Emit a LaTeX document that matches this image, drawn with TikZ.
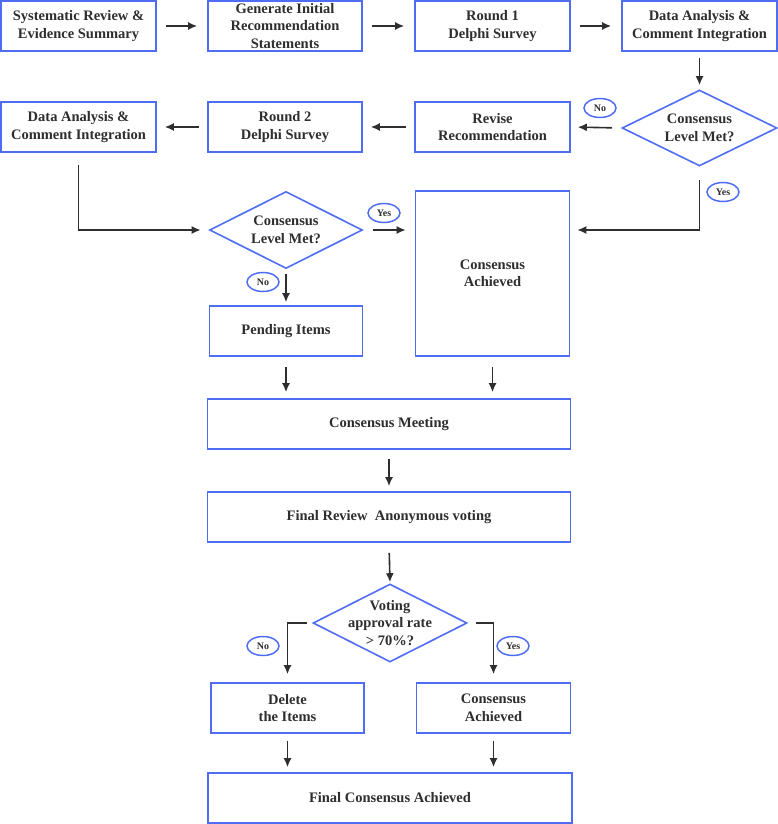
\documentclass[tikz,border=0pt]{standalone}
\usepackage{fontspec}
\setmainfont{Liberation Serif}
\usetikzlibrary{shapes.geometric,arrows.meta,calc}
\definecolor{bblue}{HTML}{4F6DF2}
\definecolor{tgray}{HTML}{2E2E2E}
\begin{document}
\begin{tikzpicture}[x=1pt,y=-1pt,
  box/.style={draw=bblue,line width=1.6pt,fill=white,inner sep=0pt,align=center,
    font=\fontsize{14.5}{17.5}\selectfont\bfseries,text=tgray,minimum height=50pt},
  dia/.style={draw=bblue,line width=1.6pt,shape=diamond,inner sep=0pt,aspect=2},
  dtext/.style={align=center,font=\fontsize{14.5}{17.5}\selectfont\bfseries,text=tgray,inner sep=0pt},
  lab/.style={draw=bblue,line width=1.5pt,ellipse,inner sep=0pt,minimum width=32pt,minimum height=19pt,
    font=\fontsize{10}{11}\selectfont\bfseries,text=tgray},
  arr/.style={draw=tgray,line width=1.6pt,-{Latex[length=9pt,width=8pt]}}
]
\useasboundingbox (0,0) rectangle (778,824);
% row 1
\node[box,minimum width=155pt] (b1) at (78.5,26) {Systematic Review \&\\Evidence Summary};
\node[box,minimum width=154pt] (b2) at (285,26) {Generate Initial\\Recommendation\\Statements};
\node[box,minimum width=155pt] (b3) at (492.5,26) {Round 1\\Delphi Survey};
\node[box,minimum width=155pt] (b4) at (699.5,26) {Data Analysis \&\\Comment Integration};
% row 2
\node[dia,minimum width=155pt,minimum height=76pt,label={[dtext,name=d1t]center:Consensus\\Level Met?}] (d1) at (699.5,128) {};
\node[box,minimum width=155pt] (b7) at (492.5,127) {Revise\\Recommendation};
\node[box,minimum width=154pt] (b6) at (285,127) {Round 2\\Delphi Survey};
\node[box,minimum width=155pt] (b5) at (78.5,127) {Data Analysis \&\\Comment Integration};
\node[lab] (n1) at (600,108) {No};
\node[lab] (y1) at (723,192) {Yes};
% middle
\node[box,minimum width=154pt,minimum height=165pt] (ca1) at (492.5,273.5) {Consensus\\Achieved};
\node[dia,minimum width=153pt,minimum height=77pt,label={[dtext,name=d2t]center:Consensus\\Level Met?}] (d2) at (286,230) {};
\node[lab] (y2) at (384,213) {Yes};
\node[lab] (n2) at (263,282) {No};
\node[box,minimum width=153pt] (pend) at (286,331) {Pending Items};
\node[box,minimum width=363pt] (meet) at (389,424) {Consensus Meeting};
\node[box,minimum width=363pt] (frev) at (389,517) {Final Review\ \ Anonymous voting};
\node[dia,minimum width=154pt,minimum height=78pt,label={[dtext,name=d3t]center:Voting\\approval rate\\> 70\%?}] (d3) at (390,623) {};
\node[lab] (n3) at (263,646) {No};
\node[lab] (y3) at (513,646) {Yes};
\node[box,minimum width=153pt] (del) at (287.5,708) {Delete\\the Items};
\node[box,minimum width=154pt] (ca2) at (493.5,708) {Consensus\\Achieved};
\node[box,minimum width=364pt] (fin) at (390,798) {Final Consensus Achieved};
% arrows
\draw[arr,shorten <=9pt,shorten >=10pt] (b1) -- (b2);
\draw[arr,shorten <=9pt,shorten >=10pt] (b2) -- (b3);
\draw[arr,shorten <=9pt,shorten >=10pt] (b3) -- (b4);
\draw[arr,shorten <=6pt,shorten >=4pt] (b4) -- (d1);
\draw[arr,shorten <=9pt,shorten >=7pt] (d1.west) -- (b7.east);
\draw[arr,shorten <=8pt,shorten >=8pt] (b7) -- (b6);
\draw[arr,shorten <=8pt,shorten >=8pt] (b6) -- (b5);
\draw[arr,shorten <=13pt,shorten >=7pt] (d1.south) |- (ca1.east |- d2.east);
\draw[arr,shorten <=12pt,shorten >=8pt] (b5.south) |- (d2.west);
\draw[arr,shorten <=10pt,shorten >=9pt] (d2.east) -- (ca1.west |- d2.east);
\draw[arr,shorten <=5pt,shorten >=3pt] (d2.south) -- (pend.north);
\draw[arr,shorten <=10pt,shorten >=6pt] (pend.south) -- (pend.south |- meet.north);
\draw[arr,shorten <=10pt,shorten >=6pt] (ca1.south) -- (ca1.south |- meet.north);
\draw[arr,shorten <=9pt,shorten >=5pt] (meet.south) -- (frev.north);
\draw[arr,shorten <=10pt,shorten >=1pt] (frev.south) -- (d3.north);
\draw[arr,shorten <=5pt,shorten >=8pt] (d3.west) -| (del.north);
\draw[arr,shorten <=8pt,shorten >=8pt] (d3.east) -| (ca2.north);
\draw[arr,shorten <=7pt,shorten >=5pt] (del.south) -- (del.south |- fin.north);
\draw[arr,shorten <=7pt,shorten >=5pt] (ca2.south) -- (ca2.south |- fin.north);
\end{tikzpicture}
\end{document}
